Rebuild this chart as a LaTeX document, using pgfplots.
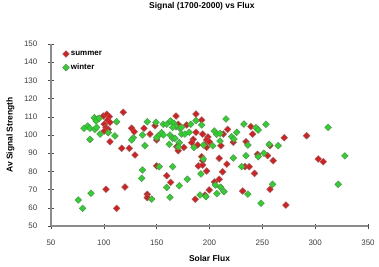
\documentclass[border=0pt]{standalone}
\usepackage{pgfplots}
\pgfplotsset{compat=1.18}
\usepackage{fontspec}
\setmainfont{Liberation Sans}
\definecolor{sred}{RGB}{240,20,20}
\definecolor{wgreen}{RGB}{25,225,25}
\definecolor{axgray}{RGB}{140,140,140}
\begin{document}
\begin{tikzpicture}
\begin{axis}[
  scale only axis,
  width=317bp, height=182bp,
  xmin=50, xmax=350, ymin=50, ymax=150,
  axis lines*=left,
  axis line style={axgray, line width=1.2bp},
  xtick={50,100,...,350},
  ytick={50,60,...,150},
  tick align=center,
  major tick length=5bp,
  tick style={black!70, line width=0.6bp},
  /pgf/number format/assume math mode=true,
  ticklabel style={font=\fontsize{8}{9}\selectfont, text=black!75},
  xticklabel style={inner sep=0pt, anchor=north, yshift=-11bp},
  yticklabel style={inner sep=0pt, anchor=east, xshift=-11bp},
  title={Signal (1700-2000) vs Flux},
  title style={at={(axis description cs:0.476,1.176)}, anchor=center, font=\bfseries\fontsize{8.5}{10}\selectfont},
  xlabel={Solar Flux},
  xlabel style={at={(axis description cs:0.5,-0.18)}, anchor=center, font=\bfseries\fontsize{8.5}{10}\selectfont},
  ylabel={Av Signal Strength},
  ylabel style={at={(axis description cs:-0.128,0.5)}, anchor=center, font=\bfseries\fontsize{8.5}{10}\selectfont},
  legend image code/.code={\draw[#1] plot coordinates {(0bp,0bp)};},
  legend style={at={(axis description cs:0.036,0.97)}, anchor=north west, draw=none, fill=none,
    font=\bfseries\fontsize{8}{9}\selectfont, inner sep=0pt, row sep=4bp,
    nodes={inner sep=1.5bp}},
  legend cell align=left,
]
\addplot[only marks, mark=square*, mark size=2.4bp,
  mark options={rotate=45, fill=sred, draw=black!55, line width=0.4bp}]
table {
x y
118.4 112.5
99.5 110.4
102.7 111.4
105.2 110.1
103.6 108.2
105.8 107.0
100.4 105.9
102.0 104.0
104.2 103.1
100.4 102.2
105.8 96.3
116.9 92.7
124.1 92.7
129.5 89.0
102.0 70.2
120.0 71.4
112.1 59.7
126.3 103.7
128.8 101.8
168.3 110.4
187.2 111.5
192.6 108.2
138.0 103.7
148.4 105.1
143.7 100.5
150.0 97.3
170.5 105.9
178.4 105.5
187.2 101.5
193.5 100.5
184.6 97.6
183.1 95.8
188.8 94.5
168.9 93.6
170.4 91.4
175.8 93.2
192.6 88.1
189.4 83.0
193.5 83.5
150.0 83.0
159.5 77.6
163.2 74.0
141.1 67.4
141.1 65.6
186.5 64.7
213.0 100.5
217.1 103.1
198.5 98.9
197.3 97.3
199.8 96.3
195.7 94.5
197.3 93.2
210.8 94.1
222.5 96.0
234.5 96.3
239.2 104.6
240.8 100.5
245.5 89.4
255.0 88.7
260.3 85.9
193.5 85.9
209.2 87.2
216.5 84.0
197.3 80.2
212.4 79.8
233.6 82.6
237.6 82.6
242.6 78.9
209.2 75.7
204.8 74.2
199.7 69.8
231.4 69.2
257.2 70.2
195.7 67.0
270.7 98.5
291.9 99.6
257.2 94.1
302.9 86.8
307.6 85.3
272.3 61.5
};
\addlegendentry{summer}
\addplot[only marks, mark=square*, mark size=2.4bp,
  mark options={rotate=45, fill=wgreen, draw=black!55, line width=0.4bp}]
table {
x y
91.0 109.5
94.2 108.8
92.6 107.7
95.7 109.2
84.7 104.9
81.2 103.7
86.9 103.7
91.6 103.1
93.2 104.2
96.4 100.5
104.2 101.3
112.1 107.3
110.5 99.5
86.9 97.6
87.8 68.0
75.8 64.3
79.9 59.7
141.1 107.3
149.3 107.0
156.2 105.9
159.5 105.9
163.2 107.7
166.4 106.4
168.3 104.6
172.0 103.7
173.6 104.2
165.1 104.2
182.2 105.9
187.2 107.9
192.6 105.5
136.6 100.0
154.7 101.3
156.2 100.0
151.5 99.6
150.0 98.5
162.6 100.0
165.1 98.2
167.3 98.2
173.6 100.5
176.7 100.5
180.8 101.5
127.9 98.5
126.4 97.3
138.9 94.1
161.9 94.9
171.4 95.8
170.5 93.5
185.3 93.2
194.4 94.5
152.5 82.6
165.1 82.6
191.9 78.6
136.6 80.8
135.8 76.2
179.0 75.7
171.4 72.1
159.5 71.2
145.3 64.8
162.6 65.8
191.0 67.0
196.6 66.1
215.6 108.8
232.6 106.0
253.4 105.9
243.9 104.0
246.1 102.7
204.5 102.2
206.8 100.4
210.0 100.9
210.0 96.7
220.9 99.1
225.7 101.5
223.1 97.8
203.0 94.1
236.3 94.5
256.5 94.9
251.5 90.0
246.1 88.1
234.5 88.6
222.5 87.4
194.1 86.8
230.4 82.6
259.7 72.9
205.5 72.5
210.5 71.3
213.7 68.9
207.0 67.8
236.3 67.5
248.7 62.5
265.0 94.1
312.3 104.2
321.8 72.9
328.1 88.5
};
\addlegendentry{winter}
\end{axis}
\pgfresetboundingbox
\path (-51bp,-41bp) rectangle (328bp,226bp);
\end{tikzpicture}
\end{document}
